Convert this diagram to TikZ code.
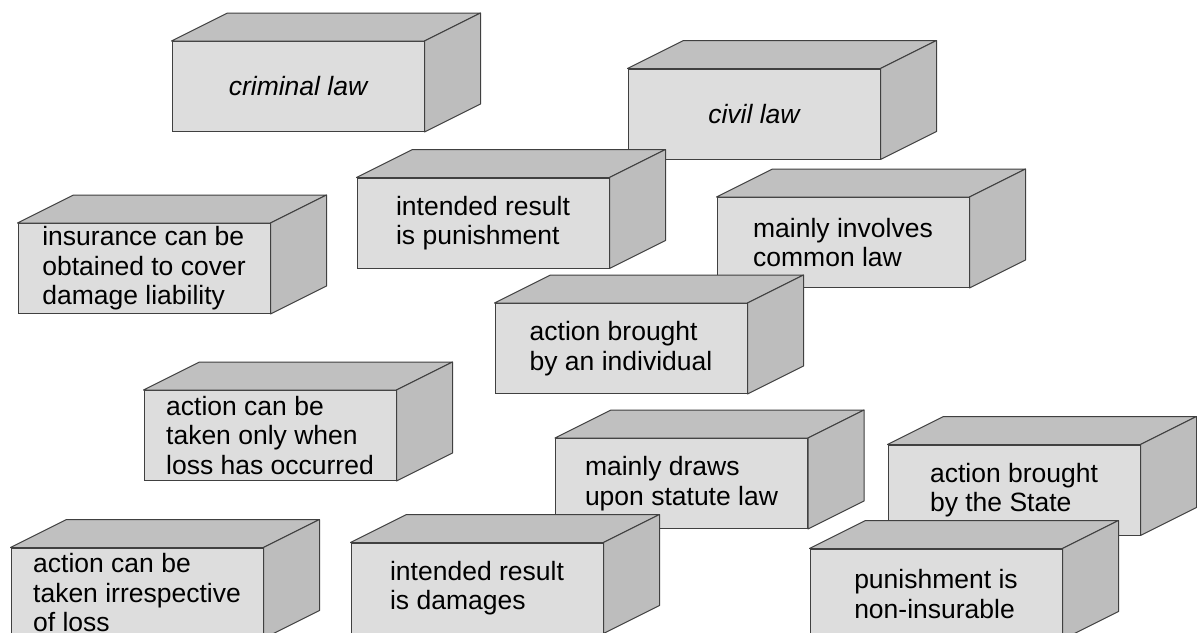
\documentclass[tikz,border=0pt]{standalone}
\usepackage{fontspec}
\setmainfont{Liberation Sans}
\definecolor{frontc}{HTML}{DDDDDD}
\definecolor{topc}{HTML}{C0C0C0}
\definecolor{sidec}{HTML}{BDBDBD}
\definecolor{edgec}{HTML}{404040}
\tikzset{
  cube/.style={draw=edgec, fill=frontc, line width=1pt, minimum width=252pt, minimum height=90pt, inner sep=0pt, align=left, font=\fontsize{26.5}{29.5}\selectfont},
  facetop/.style={draw=edgec, fill=topc, line width=1pt, line join=round},
  faceside/.style={draw=edgec, fill=sidec, line width=1pt, line join=round},
}
\newcommand\cubefaces[1]{%
  \filldraw[facetop] (#1.north west) -- ++(56,-28) -- ([shift={(56,-28)}]#1.north east) -- (#1.north east) -- cycle;
  \filldraw[faceside] (#1.north east) -- ++(56,-28) -- ([shift={(56,-28)}]#1.south east) -- (#1.south east) -- cycle;
}
\begin{document}
\begin{tikzpicture}[x=1pt,y=-1pt]
\useasboundingbox (0,0) rectangle (1197,632);
\fill[white] (0,0) rectangle (1197,632);
\node[cube] (crim) at (298,86.5) {\itshape criminal law}; \cubefaces{crim}
\node[cube] (civ) at (754,114) {\itshape civil law}; \cubefaces{civ}
\node[cube] (pun) at (483,223) {intended result\\is punishment}; \cubefaces{pun}
\node[cube] (com) at (843,242.5) {mainly involves\\common law}; \cubefaces{com}
\node[cube] (ins) at (144,268.5) {insurance can be\\obtained to cover\\damage liability}; \cubefaces{ins}
\node[cube] (ind) at (621,348.5) {action brought\\by an individual}; \cubefaces{ind}
\node[cube] (only) at (270,435.5) {action can be\\taken only when\\loss has occurred}; \cubefaces{only}
\node[cube] (stat) at (681.5,483.5) {mainly draws\\upon statute law}; \cubefaces{stat}
\node[cube] (state) at (1014,490) {action brought\\by the State}; \cubefaces{state}
\node[cube] (irr) at (137,593) {action can be\\taken irrespective\\of loss}; \cubefaces{irr}
\node[cube] (dam) at (477,588) {intended result\\is damages}; \cubefaces{dam}
\node[cube] (noni) at (936,594) {punishment is\\non-insurable}; \cubefaces{noni}
\end{tikzpicture}
\end{document}
